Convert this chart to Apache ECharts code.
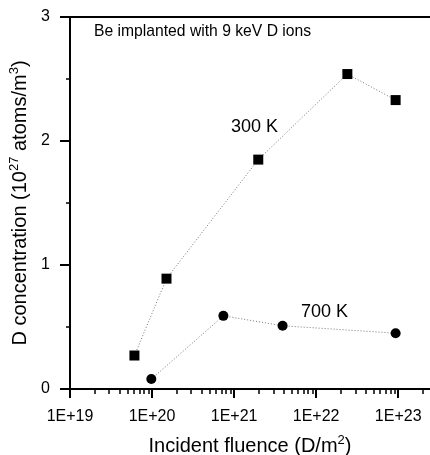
<!DOCTYPE html>
<html><head><meta charset="utf-8">
<script src="https://cdn.jsdelivr.net/npm/echarts@6/dist/echarts.min.js"></script>
<style>html,body{margin:0;padding:0;background:#fff}#c{width:430px;height:455px}</style>
</head><body><div id="c"></div>
<script>
// Data
const fluence300 = [6.1e19, 1.5e20, 1.97e21, 2.4e22, 9.3e22];
const conc300 = [0.27, 0.89, 1.85, 2.54, 2.33];
const fluence700 = [9.8e19, 7.4e20, 3.9e21, 9.3e22];
const conc700 = [0.08, 0.59, 0.51, 0.45];
const xMajorTicks = [1e19, 1e20, 1e21, 1e22, 1e23];
const yTicks = [0, 1, 2, 3];
const xMinorTicks = [];
for (let e = 19; e <= 23; e++) for (let k = 2; k <= 9; k++) { const v = k * Math.pow(10, e); if (v < 2.44e23) xMinorTicks.push(v); }

const FONT = 'Liberation Sans, Arial, sans-serif';
const chart = echarts.init(document.getElementById('c'), null, {renderer: 'canvas'});
const xMin = 1e19, xMax = 2.44e23;
const baseX = {type: 'log', logBase: 10, min: xMin, max: xMax, gridIndex: 0, splitLine: {show: false}};
chart.setOption({
  animation: false,
  backgroundColor: '#fff',
  grid: {left: 70, top: 17, right: 0, bottom: 66, containLabel: false, outerBoundsMode: 'none'},
  xAxis: [
    Object.assign({}, baseX, {
      position: 'bottom',
      axisLine: {show: true, onZero: false, lineStyle: {color: '#000', width: 2}},
      axisTick: {show: true, customValues: xMajorTicks, length: 9, lineStyle: {color: '#000', width: 2}},
      axisLabel: {show: true, customValues: xMajorTicks, margin: 20, color: '#000', fontSize: 16, fontFamily: FONT,
        formatter: v => '1E+' + Math.round(Math.log10(v))},
      name: '{a|Incident fluence (D/m}{s|2}{a|)}',
      nameLocation: 'middle', nameGap: 45,
      nameTextStyle: {color: '#000', fontFamily: FONT, rich: {
        a: {fontSize: 20, lineHeight: 24, fontFamily: FONT, color: '#000'},
        s: {fontSize: 13, lineHeight: 13, verticalAlign: 'top', fontFamily: FONT, color: '#000'}}}
    }),
    Object.assign({}, baseX, {
      position: 'bottom',
      axisLine: {show: false},
      axisTick: {show: true, customValues: xMinorTicks, length: 5, lineStyle: {color: '#000', width: 1.5}},
      axisLabel: {show: false}
    }),
    Object.assign({}, baseX, {
      position: 'top',
      axisLine: {show: true, onZero: false, lineStyle: {color: '#000', width: 2}},
      axisTick: {show: false},
      axisLabel: {show: false}
    })
  ],
  yAxis: {
    type: 'value', min: 0, max: 3, interval: 1,
    splitLine: {show: false},
    axisLine: {show: true, onZero: false, lineStyle: {color: '#000', width: 2}},
    axisTick: {show: true, length: 10, lineStyle: {color: '#000', width: 2}},
    minorTick: {show: true, splitNumber: 2, length: 4, lineStyle: {color: '#000', width: 1.5}},
    axisLabel: {margin: 20, color: '#000', fontSize: 16, fontFamily: FONT},
    name: '{a|D concentration (10}{s|27}{a| atoms/m}{s|3}{a|)}',
    nameLocation: 'middle', nameGap: 34, nameRotate: 90,
    nameTextStyle: {color: '#000', fontFamily: FONT, rich: {
      a: {fontSize: 20, lineHeight: 24, fontFamily: FONT, color: '#000'},
      s: {fontSize: 13, lineHeight: 13, verticalAlign: 'top', fontFamily: FONT, color: '#000'}}}
  },
  series: [
    {type: 'line', name: '300 K', xAxisIndex: 0, data: fluence300.map((x, i) => [x, conc300[i]]),
      symbol: 'rect', symbolSize: 10, itemStyle: {color: '#000'},
      lineStyle: {color: '#777', width: 1, type: [1, 2]}},
    {type: 'line', name: '700 K', xAxisIndex: 0, data: fluence700.map((x, i) => [x, conc700[i]]),
      symbol: 'circle', symbolSize: 10, itemStyle: {color: '#000'},
      lineStyle: {color: '#777', width: 1, type: [1, 2]}}
  ],
  graphic: [
    {type: 'text', left: 94, top: 24, style: {text: 'Be implanted with 9 keV D ions', font: '15.7px ' + FONT, fill: '#000'}},
    {type: 'text', left: 231, top: 118, style: {text: '300 K', font: '18px ' + FONT, fill: '#000'}},
    {type: 'text', left: 301, top: 303, style: {text: '700 K', font: '18px ' + FONT, fill: '#000'}}
  ]
});
</script></body></html>
